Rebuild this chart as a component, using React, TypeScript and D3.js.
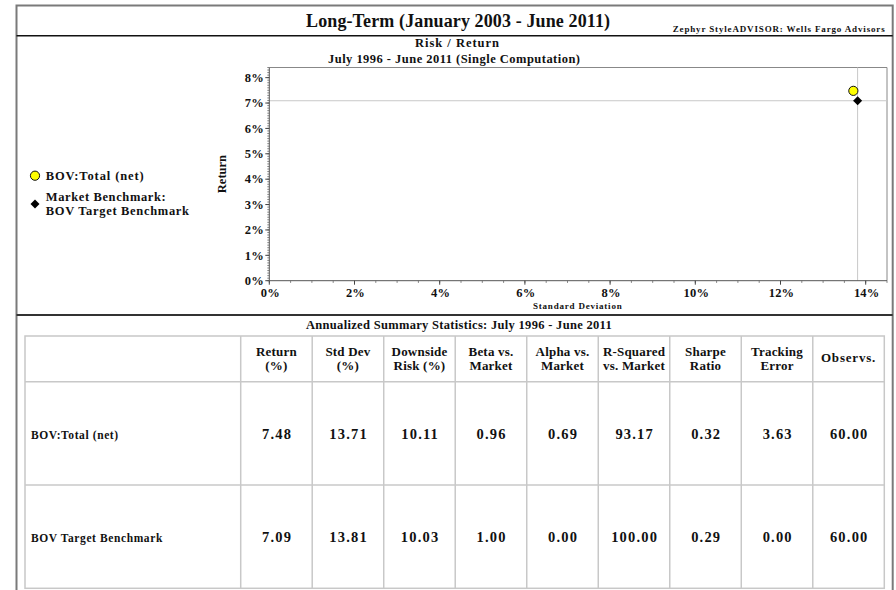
import React from "react";
import * as d3 from "d3";

// ---------- data ----------
const chartTitle = "Long-Term (January 2003 - June 2011)";
const sourceNote = "Zephyr StyleADVISOR: Wells Fargo Advisors";
const plotTitle = "Risk / Return";
const plotSubtitle = "July 1996 - June 2011 (Single Computation)";
const tableTitle = "Annualized Summary Statistics: July 1996 - June 2011";
const xAxisTitle = "Standard Deviation";
const yAxisTitle = "Return";

const seriesNames = ["BOV:Total (net)", "BOV Target Benchmark"];
const legendLines = [["BOV:Total (net)"], ["Market Benchmark:", "BOV Target Benchmark"]];
const stdDevValues = [13.71, 13.81];
const returnValues = [7.48, 7.09];

const xTicks = [0, 2, 4, 6, 8, 10, 12, 14];
const yTicks = [0, 1, 2, 3, 4, 5, 6, 7, 8];

const headerLines = [
  ["Return", "(%)"],
  ["Std Dev", "(%)"],
  ["Downside", "Risk (%)"],
  ["Beta vs.", "Market"],
  ["Alpha vs.", "Market"],
  ["R-Squared", "vs. Market"],
  ["Sharpe", "Ratio"],
  ["Tracking", "Error"],
  ["Observs."],
];
const rowTotal = [7.48, 13.71, 10.11, 0.96, 0.69, 93.17, 0.32, 3.63, 60.0];
const rowBenchmark = [7.09, 13.81, 10.03, 1.0, 0.0, 100.0, 0.29, 0.0, 60.0];
const tableRows = [rowTotal, rowBenchmark];

// ---------- layout ----------
const W = 896;
const H = 590;
const FONT = "'Liberation Serif', 'Times New Roman', serif";

const plot = { left: 269.3, right: 887, top: 67.5, bottom: 280.7 };
const table = { left: 25, labelRight: 240.7, right: 884.3, top: 336, headBottom: 381.7, rowH: 103.3 };

export default function App() {
  const x = d3.scaleLinear().domain([0, 14.5]).range([plot.left, plot.right]);
  const y = d3.scaleLinear().domain([0, 8.4]).range([plot.bottom, plot.top]);
  const xMinor = d3.range(0, 14.5001, 0.5);
  const yMinor = d3.range(0, 84.01, 1).map((v) => v / 10);

  const col = d3
    .scaleBand<number>()
    .domain(d3.range(headerLines.length))
    .range([table.labelRight, table.right]);
  const rowTop = (i: number) => table.headBottom + i * table.rowH;
  const tableBottom = rowTop(tableRows.length);
  const headMid = (table.top + table.headBottom) / 2;

  const diamond = d3.symbol().type(d3.symbolDiamond2).size(52);
  const bench = { x: x(stdDevValues[1]), y: y(returnValues[1]) };

  const bold = { fontFamily: FONT, fontWeight: 700, fill: "#111" } as const;

  return (
    <div style={{ position: "fixed", left: 0, top: 0, width: W, height: H, background: "#fff" }}>
      <svg width={W} height={H} viewBox={`0 0 ${W} ${H}`} style={{ display: "block" }}>
        <rect x={0} y={0} width={W} height={H} fill="#fff" />

        {/* outer frame */}
        <path d={`M16.5,${H + 5} V5.5 H892.7 V${H + 5}`} fill="none" stroke="#7a7a7a" strokeWidth={2} />
        <line x1={16.5} x2={892.7} y1={35.7} y2={35.7} stroke="#111" strokeWidth={1.5} />
        <line x1={16.5} x2={892.7} y1={315} y2={315} stroke="#333" strokeWidth={2} />

        {/* titles */}
        <text x={306} y={27.3} fontSize={18} {...bold} textLength={304} lengthAdjust="spacing">
          {chartTitle}
        </text>
        <text x={672.7} y={32.3} fontSize={9} {...bold} textLength={212} lengthAdjust="spacing">
          {sourceNote}
        </text>
        <text x={415} y={46.7} fontSize={12.5} {...bold} textLength={84} lengthAdjust="spacing">
          {plotTitle}
        </text>
        <text x={328} y={63} fontSize={12.5} {...bold} textLength={252} lengthAdjust="spacing">
          {plotSubtitle}
        </text>

        {/* plot frame */}
        <line x1={plot.left} x2={plot.right} y1={plot.top} y2={plot.top} stroke="#888" strokeWidth={1} />
        <line x1={plot.right} x2={plot.right} y1={plot.top} y2={plot.bottom} stroke="#888" strokeWidth={1} />

        {/* reference lines through the benchmark */}
        <line x1={plot.left} x2={plot.right} y1={bench.y} y2={bench.y} stroke="#c8c8c8" strokeWidth={1} />
        <line x1={bench.x} x2={bench.x} y1={plot.top} y2={plot.bottom} stroke="#c8c8c8" strokeWidth={1} />

        {/* y axis */}
        <line x1={plot.left} x2={plot.left} y1={plot.top} y2={plot.bottom} stroke="#555" strokeWidth={1} />
        {yMinor.map((v) => (
          <line key={`ym${v}`} x1={plot.left - 2} x2={plot.left} y1={y(v)} y2={y(v)} stroke="#666" strokeWidth={0.8} />
        ))}
        {yTicks.map((v) => (
          <g key={`y${v}`}>
            <line x1={plot.left - 4} x2={plot.left} y1={y(v)} y2={y(v)} stroke="#444" strokeWidth={1} />
            <text x={264} y={y(v) + 4.2} fontSize={12.5} {...bold} textAnchor="end" letterSpacing={0.2}>
              {`${v}%`}
            </text>
          </g>
        ))}
        <text
          transform={`translate(225.5,${(plot.top + plot.bottom) / 2}) rotate(-90)`}
          fontSize={12.5}
          {...bold}
          textAnchor="middle"
        >
          {yAxisTitle}
        </text>

        {/* x axis */}
        <line x1={plot.left} x2={plot.right} y1={plot.bottom} y2={plot.bottom} stroke="#555" strokeWidth={1} />
        {xMinor.map((v) => (
          <line key={`xm${v}`} x1={x(v)} x2={x(v)} y1={plot.bottom} y2={plot.bottom + 2.2} stroke="#666" strokeWidth={0.8} />
        ))}
        {xTicks.map((v) => (
          <g key={`x${v}`}>
            <line x1={x(v)} x2={x(v)} y1={plot.bottom} y2={plot.bottom + 4} stroke="#444" strokeWidth={1} />
            <text x={x(v) + 1} y={296.5} fontSize={12.5} {...bold} textAnchor="middle" letterSpacing={0.2}>
              {`${v}%`}
            </text>
          </g>
        ))}
        <text x={533} y={309} fontSize={9} {...bold} textLength={88.7} lengthAdjust="spacing">
          {xAxisTitle}
        </text>

        {/* points */}
        <circle cx={x(stdDevValues[0])} cy={y(returnValues[0])} r={4.6} fill="#ffff00" stroke="#111" strokeWidth={1} />
        <path d={diamond() as string} transform={`translate(${bench.x},${bench.y})`} fill="#000" />

        {/* legend */}
        <circle cx={35} cy={175.7} r={4.6} fill="#ffff00" stroke="#111" strokeWidth={1} />
        <text x={45.7} y={180} fontSize={12.5} {...bold} textLength={98} lengthAdjust="spacing">
          {legendLines[0][0]}
        </text>
        <path d={diamond() as string} transform="translate(35,204)" fill="#000" />
        <text x={45.7} y={200.7} fontSize={12.5} {...bold} textLength={120} lengthAdjust="spacing">
          {legendLines[1][0]}
        </text>
        <text x={45.7} y={215} fontSize={12.5} {...bold} textLength={143.3} lengthAdjust="spacing">
          {legendLines[1][1]}
        </text>

        {/* table */}
        <text x={306} y={329.3} fontSize={12.5} {...bold} textLength={305.7} lengthAdjust="spacing">
          {tableTitle}
        </text>
        <g stroke="#c8c8c8" strokeWidth={1.5} fill="none">
          <rect x={table.left} y={table.top} width={table.right - table.left} height={tableBottom - table.top} />
          {headerLines.map((_, i) => (
            <line key={`cl${i}`} x1={col(i)!} x2={col(i)!} y1={table.top} y2={tableBottom} />
          ))}
          {tableRows.map((_, i) => (
            <line key={`rl${i}`} x1={table.left} x2={table.right} y1={rowTop(i)} y2={rowTop(i)} />
          ))}
        </g>
        {headerLines.map((lines, i) => {
          const cx = col(i)! + col.bandwidth() / 2;
          return lines.length === 1 ? (
            <text key={`h${i}`} x={cx} y={headMid + 3} fontSize={13} {...bold} textAnchor="middle" letterSpacing={0.8}>
              {lines[0]}
            </text>
          ) : (
            <g key={`h${i}`}>
              <text x={cx} y={headMid - 3} fontSize={13} {...bold} textAnchor="middle" letterSpacing={0.2}>
                {lines[0]}
              </text>
              <text x={cx} y={headMid + 11} fontSize={13} {...bold} textAnchor="middle" letterSpacing={0.2}>
                {lines[1]}
              </text>
            </g>
          );
        })}
        {tableRows.map((row, r) => {
          const mid = rowTop(r) + table.rowH / 2;
          return (
            <g key={`row${r}`}>
              <text x={31} y={mid + 5.3} fontSize={11.5} {...bold} letterSpacing={0.6}>
                {seriesNames[r]}
              </text>
              {row.map((v, i) => (
                <text
                  key={`v${r}-${i}`}
                  x={col(i)! + col.bandwidth() / 2 + 0.7}
                  y={mid + 5.3}
                  fontSize={14.5}
                  {...bold}
                  textAnchor="middle"
                  letterSpacing={1.2}
                >
                  {v.toFixed(2)}
                </text>
              ))}
            </g>
          );
        })}
      </svg>
    </div>
  );
}
